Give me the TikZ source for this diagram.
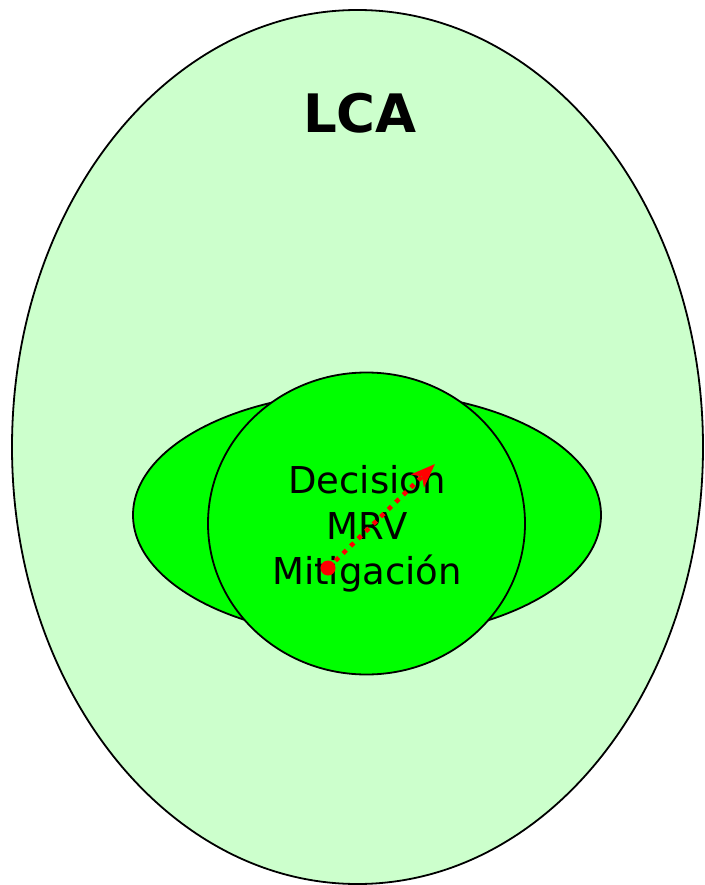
\documentclass[tikz,border=0pt]{standalone}
\usepackage{fontspec}
\setmainfont{DejaVu Sans}
\usepackage{xcolor}
\usepackage{tikz}
\usetikzlibrary{shapes.geometric,arrows.meta}

\definecolor{palegreen}{HTML}{CCFFCC}
\definecolor{brightgreen}{HTML}{00FF00}

\tikzset{
  blob/.style={ellipse,draw=black,line width=1.8pt,inner sep=0pt}
}

\begin{document}
\begin{tikzpicture}[x=1pt,y=-1pt]
    \useasboundingbox (0,0) rectangle (704,885);
    \node[blob,fill=palegreen,minimum width=691,minimum height=874] (lca) at (357.5,447) {};
    \node[font=\bfseries\fontsize{53}{60}\selectfont] (title) at (360,113) {LCA};
    \node[blob,fill=brightgreen,minimum width=468,minimum height=246] (wide) at (367,515) {};
    \node[blob,fill=brightgreen,minimum width=317,minimum height=302] (core) at (366.5,523.5) {};
    \node[align=center,font=\fontsize{37}{45.5}\selectfont] (labels) at (367,529) {Decision\\MRV\\Mitigación};
    \coordinate (start) at (328,568);
    \coordinate (tip) at (435,464);
    \fill[red] (start) circle (7.5);
    \draw[red,line width=4.5pt,dash pattern=on 4.5pt off 6pt,-{Stealth[length=24pt,width=18pt,inset=6pt]}] (start) -- (tip);
  \end{tikzpicture}
\end{document}
